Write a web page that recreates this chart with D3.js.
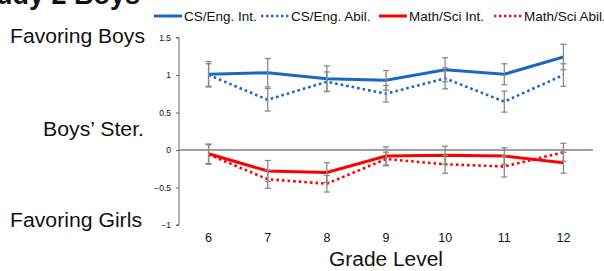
<!DOCTYPE html>
<html>
<head>
<meta charset="utf-8">
<script src="https://cdn.jsdelivr.net/npm/d3@7"></script>
<style>
  body { margin: 0; background: #fff; }
  svg { display: block; font-family: "Liberation Sans", Arial, sans-serif; }
</style>
</head>
<body>
<div id="chart"></div>
<script>
// grade levels on the x axis
var grades = ["6", "7", "8", "9", "10", "11", "12"];
var yTicks = [-1, -0.5, 0, 0.5, 1, 1.5];

// series values + error bar half widths
var csInt = [1.01, 1.03, 0.95, 0.93, 1.07, 1.01, 1.24];
var csIntErr = [0.17, 0.19, 0.17, 0.13, 0.16, 0.14, 0.17];
var csAbil = [1.0, 0.67, 0.91, 0.75, 0.955, 0.645, 1.0];
var csAbilErr = [0.15, 0.15, 0.13, 0.11, 0.14, 0.14, 0.15];
var msInt = [-0.05, -0.28, -0.30, -0.08, -0.07, -0.08, -0.17];
var msIntErr = [0.13, 0.14, 0.13, 0.12, 0.12, 0.11, 0.14];
var msAbil = [-0.06, -0.39, -0.45, -0.12, -0.19, -0.22, -0.03];
var msAbilErr = [0.13, 0.12, 0.11, 0.09, 0.12, 0.14, 0.12];

var seriesNames = ["CS/Eng. Int.", "CS/Eng. Abil.", "Math/Sci Int.", "Math/Sci Abil."];

var width = 604, height = 271;
var blue = "#1a68c4", red = "#ff0000";

var series = [
    {name: seriesNames[0], vals: csInt, err: csIntErr, color: blue, dotted: false},
    {name: seriesNames[1], vals: csAbil, err: csAbilErr, color: blue, dotted: true},
    {name: seriesNames[2], vals: msInt, err: msIntErr, color: red, dotted: false},
    {name: seriesNames[3], vals: msAbil, err: msAbilErr, color: red, dotted: true}
];

var svg = d3.select("#chart").append("svg")
    .attr("width", width)
    .attr("height", height);

var xScale = d3.scaleBand()
    .domain(grades)
    .range([179, 593]);

var yScale = d3.scaleLinear()
    .domain([-1, 1.5])
    .range([225, 37.5]);

// title, mostly cut off by the top edge in the source
svg.append("text")
    .attr("x", 140).attr("y", 4)
    .attr("text-anchor", "end")
    .attr("font-size", 27)
    .attr("font-weight", "bold")
    .attr("fill", "#111")
    .text("Study 2 Boys");

// y axis
var y_axis = d3.axisLeft(yScale)
    .tickValues(yTicks)
    .tickSize(3)
    .tickFormat(d3.format(""));

var gy = svg.append("g")
    .attr("transform", "translate(179,0)")
    .call(y_axis);
gy.select(".domain").attr("stroke", "#666").attr("d", "M-3,37.5H0V225H-3");
gy.selectAll(".tick line").attr("stroke", "#666");
gy.selectAll(".tick text").attr("font-size", 8.5).attr("fill", "#111").attr("x", -8);

// x tick labels, no axis line
var x_axis = d3.axisBottom(xScale).tickSize(0);
var gx = svg.append("g")
    .attr("transform", "translate(0,230)")
    .call(x_axis);
gx.select(".domain").remove();
gx.selectAll(".tick text").attr("font-size", 12.5).attr("fill", "#111");

// zero line
svg.append("line")
    .attr("x1", 179).attr("x2", 593)
    .attr("y1", yScale(0)).attr("y2", yScale(0))
    .attr("stroke", "#808080")
    .attr("stroke-width", 1.5);

var line = d3.line()
    .x(function(d, i) { return xScale(grades[i]) + xScale.bandwidth() / 2; })
    .y(function(d) { return yScale(d); });

series.forEach(function(s) {
    svg.append("path")
        .datum(s.vals)
        .attr("d", line)
        .attr("fill", "none")
        .attr("stroke", s.color)
        .attr("stroke-width", s.dotted ? 2.6 : 3)
        .attr("stroke-dasharray", s.dotted ? "2.6,3" : null);
});

// error bars
series.forEach(function(s) {
    var g = svg.append("g").attr("stroke", "#8a8a8a").attr("stroke-width", 1.3);
    s.vals.forEach(function(v, i) {
        var cx = xScale(grades[i]) + xScale.bandwidth() / 2;
        var top = yScale(v + s.err[i]), bot = yScale(v - s.err[i]);
        g.append("line").attr("x1", cx).attr("x2", cx).attr("y1", top).attr("y2", bot);
        g.append("line").attr("x1", cx - 3).attr("x2", cx + 3).attr("y1", top).attr("y2", top);
        g.append("line").attr("x1", cx - 3).attr("x2", cx + 3).attr("y1", bot).attr("y2", bot);
    });
});

// legend (last entry runs off the right edge like in the source)
var legendX = [154, 261, 379, 494];
series.forEach(function(s, i) {
    var lx = legendX[i];
    svg.append("line")
        .attr("x1", lx).attr("x2", lx + 28)
        .attr("y1", 16).attr("y2", 16)
        .attr("stroke", s.color)
        .attr("stroke-width", s.dotted ? 2.4 : 3)
        .attr("stroke-dasharray", s.dotted ? "2.4,2.6" : null);
    svg.append("text")
        .attr("x", lx + 30).attr("y", 21)
        .attr("font-size", 13.5)
        .attr("fill", "#111")
        .text(s.name);
});

// side labels
var sideLabels = [
    {t: "Favoring Boys", x: 145, y: 43, w: 135},
    {t: "Boys\u2019 Ster.", x: 144, y: 136, w: 101},
    {t: "Favoring Girls", x: 142, y: 227, w: 132}
];
sideLabels.forEach(function(l) {
    svg.append("text")
        .attr("x", l.x - l.w).attr("y", l.y)
        .attr("font-size", 20)
        .attr("fill", "#111")
        .attr("textLength", l.w)
        .attr("lengthAdjust", "spacingAndGlyphs")
        .text(l.t);
});

svg.append("text")
    .attr("x", 329).attr("y", 266)
    .attr("font-size", 20)
    .attr("fill", "#111")
    .attr("textLength", 114)
    .attr("lengthAdjust", "spacingAndGlyphs")
    .text("Grade Level");
</script>
</body>
</html>
